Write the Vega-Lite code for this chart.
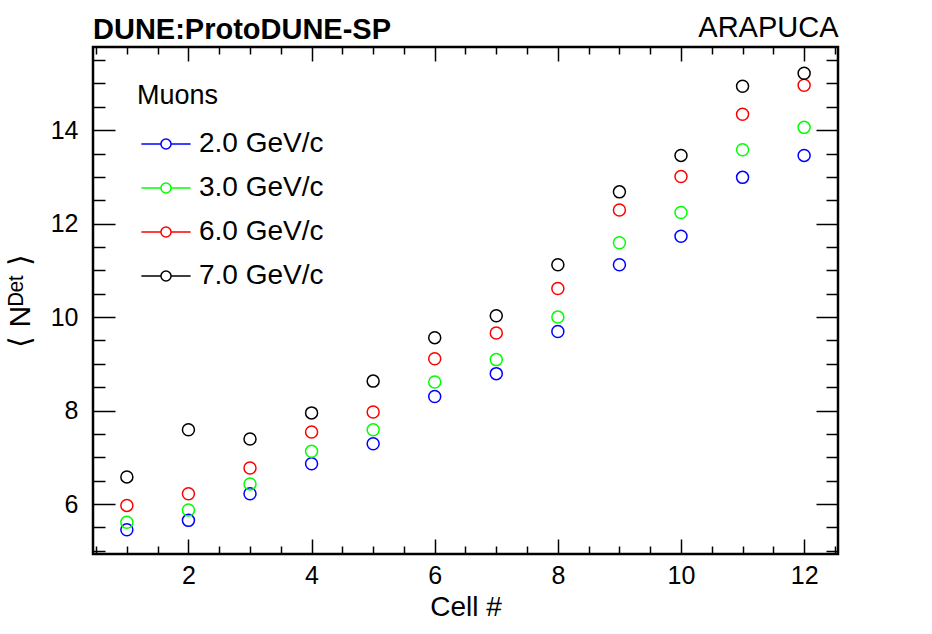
{
  "$schema": "https://vega.github.io/schema/vega-lite/v6.json",
  "autosize": "none",
  "width": 745,
  "height": 507,
  "padding": {"left": 93, "top": 47, "right": 94, "bottom": 80},
  "background": "white",
  "config": {
    "font": "Liberation Sans",
    "view": {"stroke": "black", "strokeWidth": 2.5},
    "axis": {"domain": false, "grid": false, "tickColor": "black", "tickWidth": 1.5, "labelColor": "black", "titleColor": "black", "labelFont": "Liberation Sans", "titleFont": "Liberation Sans", "titleFontWeight": "normal"}
  },
  "title": {"text": "DUNE:ProtoDUNE-SP", "anchor": "start", "frame": "group", "fontSize": 29, "fontWeight": "bold", "color": "black", "offset": -32},
  "data": {"values": [
    {"cell": 1, "p": "2.0 GeV/c", "n": 5.45}, {"cell": 1, "p": "3.0 GeV/c", "n": 5.61}, {"cell": 1, "p": "6.0 GeV/c", "n": 5.97}, {"cell": 1, "p": "7.0 GeV/c", "n": 6.58},
    {"cell": 2, "p": "2.0 GeV/c", "n": 5.65}, {"cell": 2, "p": "3.0 GeV/c", "n": 5.87}, {"cell": 2, "p": "6.0 GeV/c", "n": 6.22}, {"cell": 2, "p": "7.0 GeV/c", "n": 7.59},
    {"cell": 3, "p": "2.0 GeV/c", "n": 6.22}, {"cell": 3, "p": "3.0 GeV/c", "n": 6.43}, {"cell": 3, "p": "6.0 GeV/c", "n": 6.77}, {"cell": 3, "p": "7.0 GeV/c", "n": 7.39},
    {"cell": 4, "p": "2.0 GeV/c", "n": 6.86}, {"cell": 4, "p": "3.0 GeV/c", "n": 7.13}, {"cell": 4, "p": "6.0 GeV/c", "n": 7.54}, {"cell": 4, "p": "7.0 GeV/c", "n": 7.95},
    {"cell": 5, "p": "2.0 GeV/c", "n": 7.29}, {"cell": 5, "p": "3.0 GeV/c", "n": 7.59}, {"cell": 5, "p": "6.0 GeV/c", "n": 7.97}, {"cell": 5, "p": "7.0 GeV/c", "n": 8.63},
    {"cell": 6, "p": "2.0 GeV/c", "n": 8.30}, {"cell": 6, "p": "3.0 GeV/c", "n": 8.61}, {"cell": 6, "p": "6.0 GeV/c", "n": 9.11}, {"cell": 6, "p": "7.0 GeV/c", "n": 9.56},
    {"cell": 7, "p": "2.0 GeV/c", "n": 8.79}, {"cell": 7, "p": "3.0 GeV/c", "n": 9.09}, {"cell": 7, "p": "6.0 GeV/c", "n": 9.66}, {"cell": 7, "p": "7.0 GeV/c", "n": 10.03},
    {"cell": 8, "p": "2.0 GeV/c", "n": 9.69}, {"cell": 8, "p": "3.0 GeV/c", "n": 10.00}, {"cell": 8, "p": "6.0 GeV/c", "n": 10.61}, {"cell": 8, "p": "7.0 GeV/c", "n": 11.12},
    {"cell": 9, "p": "2.0 GeV/c", "n": 11.12}, {"cell": 9, "p": "3.0 GeV/c", "n": 11.59}, {"cell": 9, "p": "6.0 GeV/c", "n": 12.29}, {"cell": 9, "p": "7.0 GeV/c", "n": 12.68},
    {"cell": 10, "p": "2.0 GeV/c", "n": 11.73}, {"cell": 10, "p": "3.0 GeV/c", "n": 12.24}, {"cell": 10, "p": "6.0 GeV/c", "n": 13.01}, {"cell": 10, "p": "7.0 GeV/c", "n": 13.46},
    {"cell": 11, "p": "2.0 GeV/c", "n": 12.99}, {"cell": 11, "p": "3.0 GeV/c", "n": 13.58}, {"cell": 11, "p": "6.0 GeV/c", "n": 14.34}, {"cell": 11, "p": "7.0 GeV/c", "n": 14.94},
    {"cell": 12, "p": "2.0 GeV/c", "n": 13.46}, {"cell": 12, "p": "3.0 GeV/c", "n": 14.06}, {"cell": 12, "p": "6.0 GeV/c", "n": 14.96}, {"cell": 12, "p": "7.0 GeV/c", "n": 15.22}
  ]},
  "layer": [
    {
      "mark": {"type": "point", "filled": false, "size": 144, "strokeWidth": 1.5, "opacity": 1},
      "encoding": {
        "x": {"field": "cell", "type": "quantitative",
          "scale": {"domain": [0.45, 12.55], "nice": false, "zero": false},
          "axis": {"orient": "bottom", "title": "Cell #", "titleFontSize": 28, "titlePadding": 5,
            "values": [0.5, 1, 1.5, 2, 2.5, 3, 3.5, 4, 4.5, 5, 5.5, 6, 6.5, 7, 7.5, 8, 8.5, 9, 9.5, 10, 10.5, 11, 11.5, 12, 12.5],
            "labelExpr": "datum.value % 2 === 0 ? format(datum.value, 'd') : ''",
            "labelFontSize": 25, "labelPadding": 24, "labelFlush": false,
            "tickSize": {"condition": {"test": "datum.value % 2 === 0", "value": -15}, "value": -8}}},
        "y": {"field": "n", "type": "quantitative",
          "scale": {"domain": [4.93, 15.78], "nice": false, "zero": false},
          "axis": {"orient": "left", "title": "⟨ Nᴰᵉᵗ ⟩", "titleFontSize": 30, "titlePadding": 15,
            "values": [5, 5.5, 6, 6.5, 7, 7.5, 8, 8.5, 9, 9.5, 10, 10.5, 11, 11.5, 12, 12.5, 13, 13.5, 14, 14.5, 15, 15.5],
            "labelExpr": "datum.value % 2 === 0 ? format(datum.value, 'd') : ''",
            "labelFontSize": 25, "labelPadding": 37, "labelFlush": false,
            "tickSize": {"condition": {"test": "datum.value % 2 === 0", "value": -22}, "value": -12}}},
        "color": {"field": "p", "type": "nominal",
          "scale": {"domain": ["2.0 GeV/c", "3.0 GeV/c", "6.0 GeV/c", "7.0 GeV/c"], "range": ["#0000ff", "#00ff00", "#ff0000", "#000000"]},
          "legend": {"orient": "none", "legendX": 44, "legendY": 36, "padding": 0,
            "title": "Muons", "titleFontSize": 27, "titleFontWeight": "normal", "titleColor": "black", "titlePadding": 20,
            "labelFontSize": 28, "labelColor": "black", "labelOffset": 19,
            "symbolType": "M-2.05,0H-0.42M0.42,0H2.05M0.42,0A0.42,0.42 0 1 1 -0.42,0A0.42,0.42 0 1 1 0.42,0",
            "symbolSize": 576, "symbolStrokeWidth": 1.5, "symbolOffset": 15, "rowPadding": 16}}
      }
    },
    {
      "mark": {"type": "point", "opacity": 0},
      "encoding": {
        "x": {"field": "cell", "type": "quantitative",
          "axis": {"orient": "top", "title": "ARAPUCA", "titleFontSize": 29, "titleAnchor": "end", "titlePadding": 4, "labels": false,
            "values": [0.5, 1, 1.5, 2, 2.5, 3, 3.5, 4, 4.5, 5, 5.5, 6, 6.5, 7, 7.5, 8, 8.5, 9, 9.5, 10, 10.5, 11, 11.5, 12, 12.5],
            "tickSize": {"condition": {"test": "datum.value % 2 === 0", "value": -14}, "value": -7}}},
        "y": {"field": "n", "type": "quantitative",
          "axis": {"orient": "right", "title": null, "labels": false,
            "values": [5, 5.5, 6, 6.5, 7, 7.5, 8, 8.5, 9, 9.5, 10, 10.5, 11, 11.5, 12, 12.5, 13, 13.5, 14, 14.5, 15, 15.5],
            "tickSize": {"condition": {"test": "datum.value % 2 === 0", "value": -22}, "value": -12}}}
      }
    }
  ],
  "resolve": {"axis": {"x": "independent", "y": "independent"}}
}
